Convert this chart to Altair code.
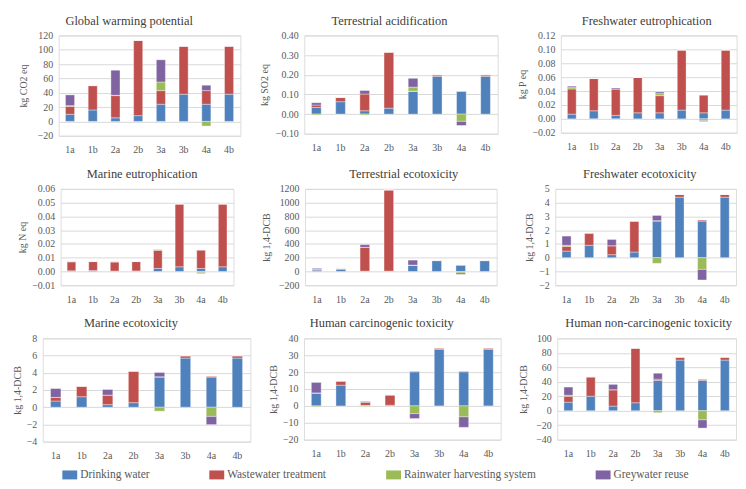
import altair as alt
import pandas as pd

categories = ["1a", "1b", "2a", "2b", "3a", "3b", "4a", "4b"]
series_names = ["Drinking water", "Wastewater treatment",
                "Rainwater harvesting system", "Greywater reuse"]
series_colors = ["#4F81BD", "#C0504D", "#9BBB59", "#8064A2"]

# values per panel: drinking, wastewater, rainwater, greywater (one value per category)
gwp = {
    "Drinking water": [10, 16, 5, 8, 24, 38, 24, 38],
    "Wastewater treatment": [11, 34, 31, 105, 19, 67, 19, 67],
    "Rainwater harvesting system": [1, 0, 0.5, 0, 12, 0, -6.5, 0],
    "Greywater reuse": [15, 0, 35, 0, 31, 0, 7.5, 0],
}
ta = {
    "Drinking water": [0.034, 0.063, 0.017, 0.030, 0.115, 0.192, 0.115, 0.192],
    "Wastewater treatment": [0.012, 0.022, 0.085, 0.285, 0.001, 0.008, 0.002, 0.008],
    "Rainwater harvesting system": [-0.004, 0, -0.005, 0, 0.021, 0, -0.037, 0],
    "Greywater reuse": [0.012, 0, 0.018, 0, 0.045, 0, -0.021, 0],
}
fe = {
    "Drinking water": [0.0068, 0.0116, 0.005, 0.0087, 0.0087, 0.0126, 0.0087, 0.0126],
    "Wastewater treatment": [0.0362, 0.0464, 0.038, 0.0508, 0.0247, 0.0864, 0.0253, 0.0864],
    "Rainwater harvesting system": [0.002, 0, 0, 0, 0.0029, 0, -0.0025, 0],
    "Greywater reuse": [0.002, 0, 0.0015, 0, 0.0024, 0, -0.0013, 0],
}
me = {
    "Drinking water": [0.0005, 0.0007, 0.0003, 0.0004, 0.0022, 0.0034, 0.0022, 0.0034],
    "Wastewater treatment": [0.0066, 0.0065, 0.0067, 0.0068, 0.0132, 0.0456, 0.0132, 0.0456],
    "Rainwater harvesting system": [0, 0, 0, 0, 0.0004, 0, -0.001, 0],
    "Greywater reuse": [0.0001, 0, 0.0001, 0, 0.0002, 0, -0.0005, 0],
}
te = {
    "Drinking water": [20, 30, 5, 5, 90, 157, 90, 157],
    "Wastewater treatment": [8, 15, 345, 1180, 3, 5, 4, 5],
    "Rainwater harvesting system": [0, 0, 0, 0, 0, 0, -22, 0],
    "Greywater reuse": [17, 0, 40, 0, 72, 0, -20, 0],
}
fet = {
    "Drinking water": [0.48, 0.90, 0.22, 0.41, 2.66, 4.40, 2.66, 4.40],
    "Wastewater treatment": [0.34, 0.89, 0.65, 2.25, 0.03, 0.19, 0.07, 0.19],
    "Rainwater harvesting system": [0.08, 0, 0, 0, -0.41, 0, -0.85, 0],
    "Greywater reuse": [0.67, 0, 0.46, 0, 0.38, 0, -0.77, 0],
}
met = {
    "Drinking water": [0.72, 1.22, 0.30, 0.53, 3.50, 5.71, 3.50, 5.71],
    "Wastewater treatment": [0.42, 1.22, 1.11, 3.66, 0.04, 0.27, 0.08, 0.27],
    "Rainwater harvesting system": [0, 0, 0, 0, -0.46, 0, -1.07, 0],
    "Greywater reuse": [1.03, 0, 0.65, 0, 0.50, 0, -0.95, 0],
}
hct = {
    "Drinking water": [7.5, 12.3, 0.3, 0.4, 20.2, 33.5, 20.2, 33.5],
    "Wastewater treatment": [0.2, 2.4, 1.7, 6.1, 0.3, 0.8, 0.3, 0.8],
    "Rainwater harvesting system": [-0.5, 0, -0.4, 0, -4.6, 0, -6.5, 0],
    "Greywater reuse": [6.2, 0, 0.6, 0, -2.9, 0, -6.2, 0],
}
hnct = {
    "Drinking water": [11.8, 20, 6.4, 11, 41.8, 70, 41.8, 70],
    "Wastewater treatment": [8.2, 26.8, 22.6, 75.4, 1.8, 4, 1.4, 4],
    "Rainwater harvesting system": [1.4, 0, 0, 0, -2.7, 0, -12.7, 0],
    "Greywater reuse": [11.3, 0, 7.4, 0, 8.2, 0, -11.3, 0],
}

FONT = "Liberation Serif"
LABEL_COLOR = "#595959"
TITLE_COLOR = "#404040"

LEGEND = alt.Legend(
    orient="none", legendX=54.7, legendY=435, direction="horizontal",
    title=None, symbolType="M-1,-0.6H1V0.6H-1Z", symbolSize=225,
    symbolStrokeWidth=0, symbolOpacity=1, labelFont=FONT, labelFontSize=11.5,
    labelColor=LABEL_COLOR, labelOffset=3, columnPadding=60, padding=0,
    labelLimit=300,
)


def to_frame(d):
    rows = []
    for si, name in enumerate(series_names):
        for ci, cat in enumerate(categories):
            rows.append({"cat": cat, "series": name, "idx": si, "value": d[name][ci]})
    return pd.DataFrame(rows)


def panel(title, ytitle, d, domain, ticks, fmt, width, height, extent, dx):
    return (
        alt.Chart(to_frame(d))
        .mark_bar(stroke="white", strokeOpacity=0.45, strokeWidth=0.8)
        .encode(
            x=alt.X("cat:N", sort=categories,
                    scale=alt.Scale(paddingInner=0.6, paddingOuter=0.3),
                    axis=alt.Axis(title=None, labelAngle=0, ticks=False, domain=False,
                                  grid=False, labelPadding=9, labelFont=FONT,
                                  labelFontSize=10, labelColor=LABEL_COLOR)),
            y=alt.Y("value:Q", stack="zero",
                    scale=alt.Scale(domain=domain, nice=False, zero=False),
                    axis=alt.Axis(title=ytitle, values=ticks, format=fmt, ticks=False,
                                  domain=False, grid=True, gridColor="#D9D9D9",
                                  gridWidth=1, labelPadding=6, labelFont=FONT,
                                  labelFontSize=10, labelColor=LABEL_COLOR,
                                  titleFont=FONT, titleFontSize=10,
                                  titleFontWeight="normal", titleColor=LABEL_COLOR,
                                  titlePadding=0, minExtent=extent, maxExtent=extent)),
            color=alt.Color("series:N", sort=series_names,
                            scale=alt.Scale(domain=series_names, range=series_colors),
                            legend=LEGEND),
            order=alt.Order("idx:Q"),
        )
        .properties(
            width=width, height=height,
            title=alt.TitleParams(title, font=FONT, fontSize=12.5, fontWeight="normal",
                                  color=TITLE_COLOR, dx=dx, offset=-9.5,
                                  baseline="bottom", anchor="middle"),
        )
    )


def spacer(width):
    # empty layout view that shifts a row sideways
    return (
        alt.Chart(pd.DataFrame({"v": [0]}))
        .mark_point(size=0, opacity=0)
        .encode(x=alt.X("v:Q", axis=None), y=alt.Y("v:Q", axis=None))
        .properties(width=width, height=1,
                    view=alt.ViewBackground(stroke="transparent", strokeOpacity=0,
                                            fill="transparent"))
    )


p1 = panel("Global warming potential", "kg CO2 eq", gwp, [-20, 120],
           list(range(-20, 121, 20)), "d", 183, 101, 30, -20.5)
p2 = panel("Terrestrial acidification", "kg SO2 eq", ta, [-0.1, 0.4],
           [-0.1, 0, 0.1, 0.2, 0.3, 0.4], ".2f", 194.7, 99, 34.7, -11.6)
p3 = panel("Freshwater eutrophication", "kg P eq", fe, [-0.02, 0.12],
           [-0.02, 0, 0.02, 0.04, 0.06, 0.08, 0.1, 0.12], ".2f", 177, 98, 34, -2)

p4 = panel("Marine eutrophication", "kg N eq", me, [-0.01, 0.06],
           [-0.01, 0, 0.01, 0.02, 0.03, 0.04, 0.05, 0.06], ".2f", 174, 97, 33.3, -5)
p5 = panel("Terrestrial ecotoxicity", "kg 1,4-DCB", te, [-200, 1200],
           list(range(-200, 1201, 200)), "d", 193, 97, 34, 3)
p6 = panel("Freshwater ecotoxicity", "kg 1,4-DCB", fet, [-2, 5],
           list(range(-2, 6)), "d", 182, 97, 21, -6)

p7 = panel("Marine ecotoxicity", "kg 1,4-DCB", met, [-4, 8],
           list(range(-4, 9, 2)), "d", 209, 104, 20, -15.7)
p8 = panel("Human carcinogenic toxicity", "kg 1,4-DCB", hct, [-20, 40],
           list(range(-20, 41, 10)), "d", 198, 102, 26, -20.7)
p9 = panel("Human non-carcinogenic toxicity", "kg 1,4-DCB", hnct, [-40, 100],
           list(range(-40, 101, 20)), "d", 180, 102, 29, 2)

row1 = alt.hconcat(spacer(10), alt.hconcat(p1, p2, p3, spacing=17.3), spacing=0)
row2 = alt.hconcat(spacer(8.7), alt.hconcat(p4, p5, p6, spacing=26), spacing=0)
row3 = alt.hconcat(spacer(4), alt.hconcat(p7, p8, p9, spacing=16), spacing=0)

chart = (
    alt.vconcat(row1, row2, row3, spacing=11.5)
    .properties(padding={"left": 0, "top": 4, "right": 0, "bottom": 0})
    .configure_view(stroke=None)
    .configure(background="white")
)

chart.save("out.html", embed_options={"renderer": "svg", "actions": False})
